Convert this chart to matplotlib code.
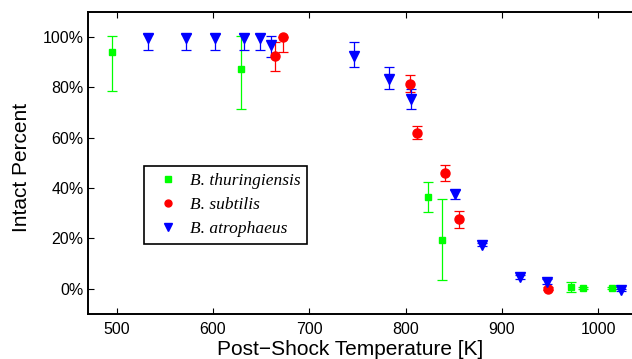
import matplotlib
matplotlib.use('Agg')
import matplotlib.pyplot as plt
from matplotlib.lines import Line2D
from matplotlib.ticker import FuncFormatter

plt.rcParams['font.family'] = ['Liberation Sans', 'DejaVu Sans']

# post-shock temperature [K], intact percent, error below / above
bt_temp = [495, 629, 823, 838, 972, 984, 1014]
bt_val = [94, 87.5, 36.5, 19.5, 0.5, 0.3, 0.3]
bt_lo = [15.5, 16, 6, 16, 2, 0.5, 0.5]
bt_hi = [6.5, 13, 6, 16, 2, 0.5, 0.5]

bs_temp = [664, 673, 805, 812, 841, 855, 948]
bs_val = [92.5, 100, 81.5, 62, 46, 27.5, 0]
bs_lo = [6, 6, 3.2, 2.7, 3.2, 3.5, 0.5]
bs_hi = [5.5, 0, 3.3, 2.7, 3.2, 3.3, 0.5]

ba_temp = [533, 572, 602, 632, 648.5, 660, 746, 783, 806, 851, 879, 918.5, 947, 1024]
ba_val = [99.5, 99.5, 99.5, 99.5, 99.5, 97, 92.5, 83.5, 75.5, 37.5, 17.5, 4.5, 2.5, -0.5]
ba_lo = [4.8, 4.8, 4.8, 4.8, 4.8, 5, 4.5, 4.3, 4, 2, 0.7, 0.7, 0.7, 0.3]
ba_hi = [1.6, 1.6, 1.6, 1.6, 1.6, 3.5, 5.5, 4.5, 4, 1.7, 0.7, 0.7, 1.2, 0.3]

names = ['B. thuringiensis', 'B. subtilis', 'B. atrophaeus']

W, H = 632, 359
fig = plt.figure(figsize=(W / 100, H / 100), dpi=100)
ax = fig.add_axes([87.7 / W, (H - 313.7) / H, (W - 87.7) / W, (313.7 - 12) / H])

ek = dict(elinewidth=0.9, capsize=3.6, capthick=0.9, linestyle='none')
ax.errorbar(bt_temp, bt_val, yerr=[bt_lo, bt_hi], fmt='s', color=(0, 1, 0),
            ms=5, **ek)
ax.errorbar(bs_temp, bs_val, yerr=[bs_lo, bs_hi], fmt='o', color=(1, 0, 0),
            ms=6.5, **ek)
ax.errorbar(ba_temp, ba_val, yerr=[ba_lo, ba_hi], fmt='v', color=(0, 0, 1),
            ms=7.5, **ek)

ax.set_xlim(470, 1035)
ax.set_ylim(-10, 110)
ax.set_xticks([500, 600, 700, 800, 900, 1000])
ax.set_yticks([0, 20, 40, 60, 80, 100])
ax.yaxis.set_major_formatter(FuncFormatter(lambda v, p: '%d%%' % v))
ax.tick_params(direction='in', length=4, width=0.8, labelsize=11.5,
               top=True, right=False)
ax.tick_params(axis='x', pad=6)
ax.tick_params(axis='y', pad=3)
for s in ['left', 'bottom', 'top']:
    ax.spines[s].set_linewidth(1.4)
ax.spines['right'].set_visible(False)

# legend shows markers only, as in the original
handles = [
    Line2D([], [], marker='s', color=(0, 1, 0), ls='none', ms=4.5),
    Line2D([], [], marker='o', color=(1, 0, 0), ls='none', ms=5),
    Line2D([], [], marker='v', color=(0, 0, 1), ls='none', ms=5.5),
]
leg = ax.legend(handles, names, loc='lower left',
                bbox_to_anchor=(0.103, 0.231), borderaxespad=0,
                prop={'family': 'Liberation Serif', 'style': 'italic', 'size': 12.5},
                fancybox=False, framealpha=1, edgecolor='black',
                borderpad=0.4, handlelength=2, handletextpad=0.25,
                labelspacing=0.45)
leg.get_frame().set_linewidth(1.2)

fig.text(216.7 / W, (H - 355) / H, 'Post\u2212Shock Temperature [K]',
         fontsize=15, ha='left', va='baseline')
fig.text(26.7 / W, (H - 231.7) / H, 'Intact Percent', fontsize=15,
         rotation=90, rotation_mode='anchor', ha='left', va='baseline')

fig.savefig('out.png', dpi=100)
